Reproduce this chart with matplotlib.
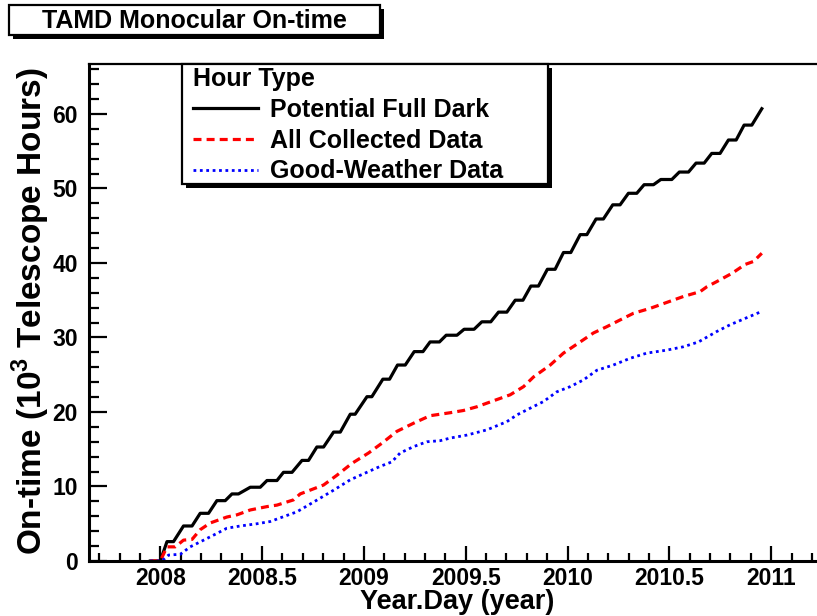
import matplotlib
matplotlib.use('Agg')
import matplotlib.pyplot as plt
from matplotlib.patches import Rectangle
from matplotlib.ticker import MultipleLocator, FuncFormatter

plt.rcParams['font.family'] = ['Liberation Sans', 'DejaVu Sans']
plt.rcParams['font.weight'] = 'bold'
plt.rcParams['mathtext.fontset'] = 'custom'
plt.rcParams['mathtext.bf'] = 'Liberation Sans:bold'
plt.rcParams['mathtext.rm'] = 'Liberation Sans:bold'

# cumulative on-time, thousands of telescope hours
full_dark_year = [2007.951, 2008.000, 2008.033, 2008.065, 2008.114, 2008.156, 2008.196, 2008.237,
                  2008.278, 2008.319, 2008.352, 2008.384, 2008.442, 2008.491, 2008.524, 2008.573,
                  2008.605, 2008.647, 2008.696, 2008.728, 2008.769, 2008.802, 2008.851, 2008.884,
                  2008.933, 2008.957, 2009.015, 2009.039, 2009.093, 2009.126, 2009.165, 2009.203,
                  2009.247, 2009.290, 2009.325, 2009.371, 2009.404, 2009.457, 2009.492, 2009.541,
                  2009.579, 2009.623, 2009.661, 2009.702, 2009.743, 2009.781, 2009.820, 2009.857,
                  2009.901, 2009.939, 2009.980, 2010.016, 2010.062, 2010.095, 2010.140, 2010.176,
                  2010.222, 2010.258, 2010.299, 2010.340, 2010.376, 2010.422, 2010.458, 2010.512,
                  2010.549, 2010.594, 2010.631, 2010.671, 2010.708, 2010.749, 2010.790, 2010.828,
                  2010.867, 2010.905, 2010.954]
full_dark = [0, 0, 2.6, 2.6, 4.7, 4.7, 6.4, 6.4,
             8.1, 8.1, 9.0, 9.0, 9.9, 9.9, 10.8, 10.8,
             11.9, 11.9, 13.5, 13.5, 15.3, 15.3, 17.3, 17.3,
             19.7, 19.7, 22.05, 22.05, 24.4, 24.4, 26.3, 26.3,
             28.1, 28.1, 29.4, 29.4, 30.3, 30.3, 31.1, 31.1,
             32.1, 32.1, 33.4, 33.4, 35.0, 35.0, 36.9, 36.9,
             39.15, 39.15, 41.4, 41.4, 43.8, 43.8, 45.9, 45.9,
             47.8, 47.8, 49.35, 49.35, 50.5, 50.5, 51.2, 51.2,
             52.2, 52.2, 53.4, 53.4, 54.7, 54.7, 56.5, 56.5,
             58.5, 58.5, 60.7]

collected_year = [2007.951, 2008.000, 2008.033, 2008.074, 2008.114, 2008.156, 2008.196, 2008.245,
                  2008.327, 2008.377, 2008.442, 2008.524, 2008.573, 2008.654, 2008.687, 2008.802,
                  2008.867, 2008.941, 2009.023, 2009.088, 2009.162, 2009.252, 2009.325, 2009.424,
                  2009.489, 2009.555, 2009.636, 2009.718, 2009.784, 2009.833, 2009.915, 2009.980,
                  2010.062, 2010.127, 2010.193, 2010.258, 2010.324, 2010.405, 2010.487, 2010.569,
                  2010.651, 2010.684, 2010.733, 2010.807, 2010.872, 2010.913, 2010.954]
collected = [0, 0, 1.9, 1.9, 2.8, 2.9, 4.2, 5.1,
             5.9, 6.2, 6.85, 7.3, 7.5, 8.2, 9.0, 10.2,
             11.5, 13.1, 14.5, 15.8, 17.4, 18.6, 19.5, 19.9,
             20.2, 20.7, 21.5, 22.3, 23.4, 24.7, 26.3, 27.9,
             29.4, 30.6, 31.45, 32.35, 33.25, 33.9, 34.7, 35.5,
             36.15, 36.8, 37.5, 38.6, 39.8, 40.2, 41.3]

good_year = [2007.951, 2008.008, 2008.041, 2008.098, 2008.147, 2008.213, 2008.278, 2008.327,
             2008.393, 2008.475, 2008.540, 2008.605, 2008.671, 2008.777, 2008.851, 2008.933,
             2009.006, 2009.080, 2009.137, 2009.178, 2009.244, 2009.309, 2009.375, 2009.424,
             2009.506, 2009.604, 2009.702, 2009.751, 2009.816, 2009.882, 2009.947, 2010.013,
             2010.078, 2010.144, 2010.225, 2010.307, 2010.389, 2010.487, 2010.569, 2010.643,
             2010.733, 2010.798, 2010.880, 2010.954]
good_weather = [0, 0, 0.8, 0.9, 1.9, 2.8, 3.7, 4.4,
                4.7, 5.0, 5.3, 5.95, 6.6, 8.3, 9.5, 10.9,
                11.8, 12.7, 13.3, 14.5, 15.35, 16.0, 16.15, 16.5,
                16.9, 17.6, 18.7, 19.6, 20.5, 21.4, 22.7, 23.4,
                24.3, 25.6, 26.3, 27.2, 27.9, 28.3, 28.75, 29.4,
                30.8, 31.7, 32.65, 33.5]

labels = ['Potential Full Dark', 'All Collected Data', 'Good-Weather Data']

W, H = 817, 616
fig = plt.figure(figsize=(W / 100, H / 100), dpi=100)
ax = fig.add_axes([89 / W, 55 / H, 1 - 89 / W, 497 / H])

l1, = ax.plot(full_dark_year, full_dark, color='black', lw=2.3)
l2, = ax.plot(collected_year, collected, color='red', lw=2.3, dashes=(2.5, 1.6))
l3, = ax.plot(good_year, good_weather, color='blue', lw=2.0, dashes=(1.0, 1.3))

ax.set_xlim(2007.65, 2011.225)
ax.set_ylim(0, 66.7)
ax.xaxis.set_major_locator(MultipleLocator(0.5))
ax.xaxis.set_minor_locator(MultipleLocator(0.1))
ax.yaxis.set_major_locator(MultipleLocator(10))
ax.yaxis.set_minor_locator(MultipleLocator(2))
ax.xaxis.set_major_formatter(FuncFormatter(lambda v, p: '%g' % v))
ax.tick_params(which='both', direction='in', top=False, right=False, width=1.6)
ax.tick_params(axis='x', which='major', length=11, pad=4, labelsize=16.5)
ax.tick_params(axis='x', which='minor', length=5.5)
ax.tick_params(axis='y', which='major', length=13, pad=8, labelsize=16.5)
ax.tick_params(axis='y', which='minor', length=7)
for s in ['left', 'bottom']:
    ax.spines[s].set_linewidth(2.2)
ax.spines['top'].set_linewidth(1.6)
ax.spines['right'].set_visible(False)

fig.text(457 / W, 1 - 609 / H, 'Year.Day (year)', ha='center', va='baseline', fontsize=19.5)
fig.text(31 / W, 1 - 311 / H, r'On-time (10$^{\mathbf{3}}$ Telescope Hours)', rotation=90,
         ha='center', va='center', fontsize=24)

def box(x0, y0, x1, y1, lw):
    # pixel box (top-left origin) with a black drop shadow
    fig.add_artist(Rectangle(((x0 + 4) / W, 1 - (y1 + 4) / H), (x1 - x0) / W, (y1 - y0) / H,
                             transform=fig.transFigure, facecolor='black', edgecolor='none'))
    fig.add_artist(Rectangle((x0 / W, 1 - y1 / H), (x1 - x0) / W, (y1 - y0) / H,
                             transform=fig.transFigure, facecolor='white', edgecolor='black', lw=lw))

box(9, 5, 380, 35, 1.6)
fig.text(194.5 / W, 1 - 21 / H, 'TAMD Monocular On-time', ha='center', va='center', fontsize=18)

box(182, 64, 548, 184, 1.6)
leg = fig.legend([l1, l2, l3], labels, loc='upper left', bbox_to_anchor=(193 / W, 1 - 67 / H),
                 frameon=False, borderpad=0, borderaxespad=0, title='Hour Type', alignment='left',
                 prop={'weight': 'bold', 'size': 18}, title_fontproperties={'weight': 'bold', 'size': 18},
                 handlelength=2.6, handletextpad=0.5, labelspacing=0.27)
leg.set_zorder(10)

fig.savefig('out.png', dpi=100)
